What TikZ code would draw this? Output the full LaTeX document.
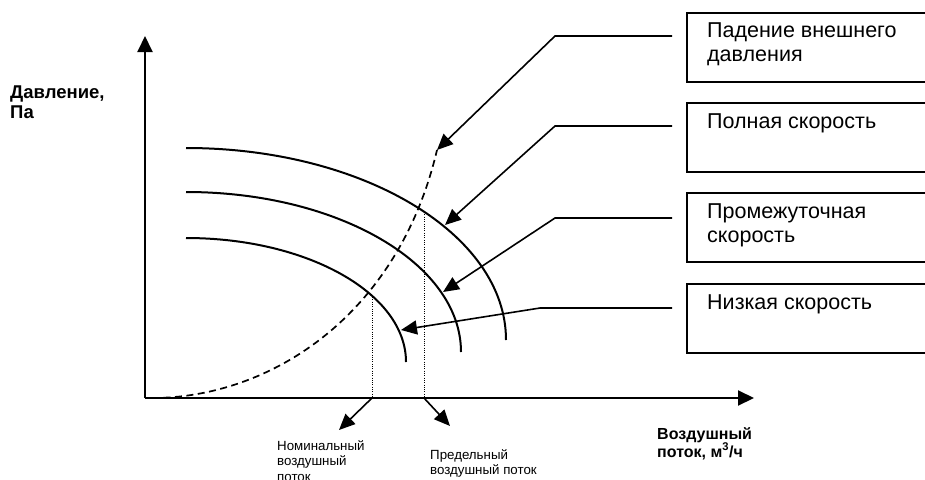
\documentclass[tikz,border=0pt]{standalone}
\usepackage{fontspec}
\setmainfont{Liberation Sans}
\usetikzlibrary{arrows.meta,calc}
\begin{document}
\begin{tikzpicture}[x=1pt,y=-1pt,
  boxedge/.style={line width=1.4pt},
  boxtext/.style={anchor=north west,align=left,inner sep=0pt,font=\fontsize{21.5}{24}\selectfont},
  smalltext/.style={anchor=north west,align=left,inner sep=0pt,font=\fontsize{13.3}{15.5}\selectfont},
  ylab/.style={anchor=north west,align=left,inner sep=0pt,font=\fontsize{18.5}{19.5}\selectfont\bfseries},
  xlab/.style={anchor=north west,align=left,inner sep=0pt,font=\fontsize{16}{18}\selectfont\bfseries},
  lead/.style={line width=1.6pt,-{Triangle[length=16pt,width=14pt]}},
  axisline/.style={line width=2pt,-{Triangle[length=16pt,width=15pt]}},
  fancurve/.style={line width=2pt},
  syscurve/.style={line width=1.7pt,dash pattern=on 7pt off 4.5pt},
  guide/.style={line width=1pt,dash pattern=on 1pt off 1.3pt}
]
\path[fill=white] (0,0) rectangle (925,479);
\useasboundingbox (0,0) rectangle (925,479);

% axes
\coordinate (O) at (145,398);
\coordinate (ytip) at (145,36);
\coordinate (xtip) at (754,398);
\draw[axisline] (O) -- (ytip);
\draw[axisline] (O) -- (xtip);

% fan curves
\draw[fancurve] (186,148) arc[start angle=-90,end angle=0,x radius=320,y radius=192];
\draw[fancurve] (186,192) arc[start angle=-90,end angle=0,x radius=275,y radius=160];
\draw[fancurve] (186,238) arc[start angle=-90,end angle=0,x radius=220,y radius=124];

% system curve
\coordinate (dstart) at (152,398);
\coordinate (dtop) at (437,150);
\draw[syscurve] (dstart) .. controls (270,398) and (398,316) .. (dtop);

% guide lines
\coordinate (nomtop) at (372,297);
\coordinate (nombot) at (372,398);
\coordinate (limtop) at (424,212);
\coordinate (limbot) at (424,398);
\draw[guide] (nomtop) -- (nombot);
\draw[guide] (limtop) -- (limbot);

% boxes: open on the right, they run past the edge of the picture
\foreach \n/\y in {b1/13,b2/103,b3/193,b4/284}{
  \coordinate (\n nw) at (687,\y);
  \coordinate (\n ne) at (925,\y);
  \coordinate (\n sw) at (687,\y+69);
  \coordinate (\n se) at (925,\y+69);
  \draw[boxedge] (\n ne) -- (\n nw) -- (\n sw) -- (\n se);
}
\node[boxtext] (t1) at (707,23) {Падение внешнего\\давления};
\node[boxtext] (t2) at (707,114) {Полная скорость};
\node[boxtext] (t3) at (707,204) {Промежуточная\\скорость};
\node[boxtext] (t4) at (707,295) {Низкая скорость};

% leaders
\coordinate (l1a) at (672,36);  \coordinate (l1b) at (555,36);
\coordinate (l2a) at (672,126); \coordinate (l2b) at (555,126);
\coordinate (l3a) at (672,218); \coordinate (l3b) at (555,218);
\coordinate (l4a) at (672,308); \coordinate (l4b) at (540,308);
\coordinate (p2) at (445,225);
\coordinate (p3) at (443,292);
\coordinate (p4) at (401,330);
\draw[lead] (l1a) -- (l1b) -- (dtop);
\draw[lead] (l2a) -- (l2b) -- (p2);
\draw[lead] (l3a) -- (l3b) -- (p3);
\draw[lead] (l4a) -- (l4b) -- (p4);

% bottom arrows
\coordinate (nomarrow) at (339,430);
\coordinate (limarrow) at (450,426);
\draw[lead] (nombot) -- (nomarrow);
\draw[lead] (limbot) -- (limarrow);

% labels
\node[smalltext] (nomlabel) at (277,440) {Номинальный\\воздушный\\поток};
\node[smalltext] (limlabel) at (430,449) {Предельный\\воздушный поток};
\node[ylab] (ylabel) at (10,86) {Давление,\\Па};
\node[xlab] (xlabel) at (657,427) {Воздушный\\поток, м\textsuperscript{3}/ч};
\end{tikzpicture}
\end{document}
